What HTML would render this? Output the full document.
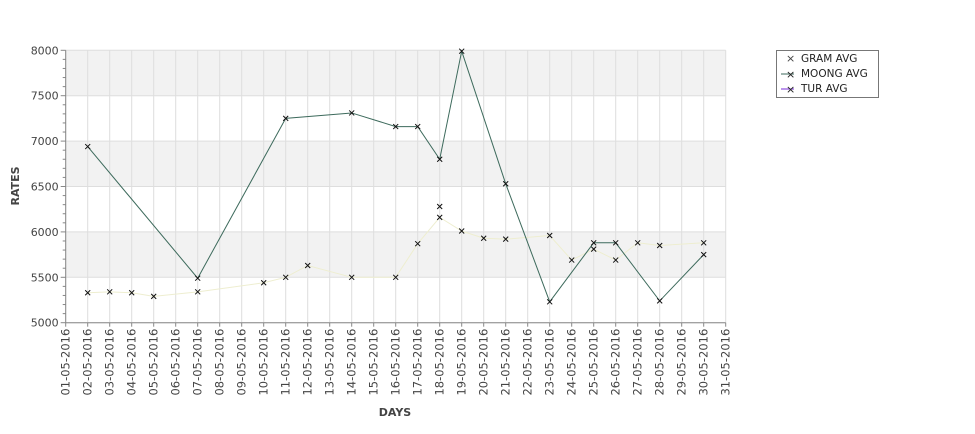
<!DOCTYPE html>
<html><head><meta charset="utf-8"><style>
body{margin:0;background:#fff;}
svg text{font-family:"DejaVu Sans","Liberation Sans",sans-serif;}
</style></head><body>
<svg id="chart" width="975" height="429" xmlns="http://www.w3.org/2000/svg">
<g id="bands"></g><g id="grid"></g><g id="axes"></g><g id="series"></g>
<text x="395" y="416" font-size="11" font-weight="bold" fill="#444" text-anchor="middle">DAYS</text>
<text transform="translate(19,186) rotate(-90)" font-size="11" font-weight="bold" fill="#444" text-anchor="middle">RATES</text>
<g>
<rect x="776.5" y="50.5" width="102" height="47" fill="#fff" stroke="#777"/>
<text x="786" y="62" font-size="11" fill="#444">×</text><text x="801" y="62" font-size="10.5" fill="#222">GRAM AVG</text>
<line x1="781" y1="74" x2="794" y2="74" stroke="#3d6a5c"/><text x="786" y="78" font-size="11" fill="#222">×</text><text x="801" y="77" font-size="10.5" fill="#222">MOONG AVG</text>
<line x1="781" y1="89" x2="794" y2="89" stroke="#7a2bd8"/><text x="786" y="93" font-size="11" fill="#222">×</text><text x="801" y="92" font-size="10.5" fill="#222">TUR AVG</text>
</g>
</svg>
<script>
const days=[1,2,3,4,5,6,7,8,9,10,11,12,13,14,15,16,17,18,19,20,21,22,23,24,25,26,27,28,29,30,31];
const yTicks=[5000,5500,6000,6500,7000,7500,8000];
const gramDays=[2,3,4,5,7,10,11,12,14,16,17,18,19,20,21,23,24,25,26,27,28,30];
const gramVals=[5330,5340,5330,5290,5340,5440,5500,5630,5500,5500,5870,6160,6010,5930,5920,5960,5690,5810,5690,5880,5850,5880];
const moongDays=[2,7,11,14,16,17,18,19,21,23,25,26,28,30];
const moongVals=[6940,5490,7250,7310,7160,7160,6800,7990,6530,5230,5880,5880,5240,5750];
const turDays=[18];
const turVals=[6280];
const NS="http://www.w3.org/2000/svg";
const X0=65.7,DX=22.0,Y0=322.7,Y1=50.3,VMIN=5000,VMAX=8000;
const xs=d=>X0+(d-1)*DX;
const ys=v=>Y0-(v-VMIN)/(VMAX-VMIN)*(Y0-Y1);
function mk(tag,attrs,parent){const e=document.createElementNS(NS,tag);for(const k in attrs)e.setAttribute(k,attrs[k]);parent.appendChild(e);return e;}
const bands=document.getElementById('bands'),grid=document.getElementById('grid'),axes=document.getElementById('axes'),series=document.getElementById('series');
const xR=xs(days[days.length-1]);
for(let i=0;i<yTicks.length-1;i++){
  if(i%2===1){const r=mk('rect',{x:X0,y:ys(yTicks[i+1]),width:xR-X0,height:ys(yTicks[i])-ys(yTicks[i+1]),fill:'#f2f2f2'},bands);
  
  }
}
days.forEach(d=>{
  const l=mk('line',{x1:xs(d),x2:xs(d),y1:Y1,y2:Y0,stroke:'#dedede'},grid);
  
  
  const t=mk('text',{transform:`translate(${xs(d)+4},${Y0+6}) rotate(-90)`,'font-size':'11.5',fill:'#444','text-anchor':'end'},axes);
  t.textContent=String(d).padStart(2,'0')+'-05-2016';
  
  
  mk('line',{x1:xs(d),x2:xs(d),y1:Y0,y2:Y0+4,stroke:'#888'},axes);
});
yTicks.forEach(v=>{
  const l=mk('line',{x1:X0,x2:xR,y1:ys(v),y2:ys(v),stroke:'#dedede'},grid);
  
  
  const t=mk('text',{x:X0-7,y:ys(v)+4,'font-size':'11',fill:'#444','text-anchor':'end'},axes);
  t.textContent=v;
  
  
});
for(let v=VMIN;v<=VMAX;v+=100){mk('line',{x1:X0-(v%500===0?5:3),x2:X0,y1:ys(v),y2:ys(v),stroke:'#888'},axes);}
mk('line',{x1:X0,x2:X0,y1:Y1,y2:Y0,stroke:'#888'},axes);
mk('line',{x1:X0,x2:xR,y1:Y0,y2:Y0,stroke:'#888'},axes);
function draw(dd,vv,color,name,line){
  if(line){const p=mk('polyline',{points:dd.map((d,i)=>xs(d)+','+ys(vv[i])).join(' '),fill:'none',stroke:color,'stroke-width':1},series);
  
  }
  dd.forEach((d,i)=>{const x=xs(d),y=ys(vv[i]);
    const g=mk('path',{d:`M${x-2.5},${y-2.5}L${x+2.5},${y+2.5}M${x-2.5},${y+2.5}L${x+2.5},${y-2.5}`,stroke:'#111','stroke-width':1},series);
    
    });
}
draw(gramDays,gramVals,'#eeeed0','gram',true);
draw(moongDays,moongVals,'#3d6a5c','moong',true);
draw(turDays,turVals,'#7a2bd8','tur',false);
</script>
</body></html>
